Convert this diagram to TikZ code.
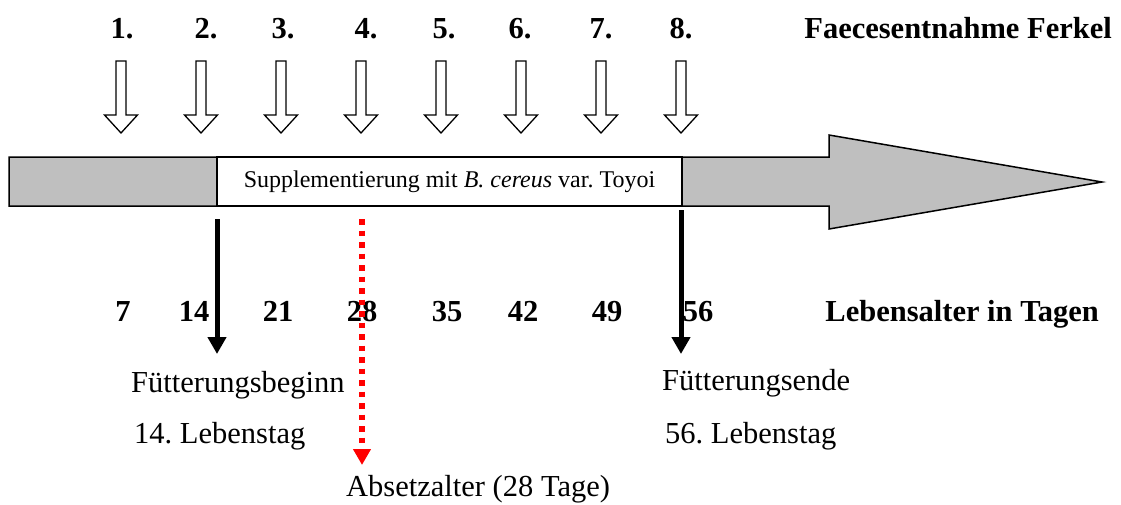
\documentclass[tikz,border=0pt]{standalone}
\usepackage{fontspec}
\setmainfont{Liberation Serif}
\usetikzlibrary{arrows.meta}
\tikzset{
  big/.style={font=\fontsize{30.5}{36}\selectfont, inner sep=0pt},
  bigb/.style={font=\fontsize{30.5}{36}\selectfont\bfseries, inner sep=0pt},
  hollow/.pic={\draw[line width=1.3pt, fill=white] (-5,61)--(5,61)--(5,115)--(16.5,115)--(0,133)--(-16.5,115)--(-5,115)--cycle;},
  blackarrow/.style={line width=5pt, -{Triangle[length=17pt,width=18pt]}},
  redarrow/.style={red, line width=5.5pt, dash pattern=on 5.5pt off 6pt, -{Triangle[length=16pt,width=17pt]}},
}
\begin{document}
\frenchspacing
\begin{tikzpicture}[x=1pt,y=-1pt]
\useasboundingbox (0,0) rectangle (1121,504);
% top labels
\foreach \n/\x in {1/122,2/206,3/283,4/366,5/444,6/520,7/601,8/681}{
  \node[bigb, anchor=base] (l\n) at (\x,38) {\n.};
}
\node[bigb, anchor=base east] (fae) at (1112,38) {Faecesentnahme Ferkel};
% hollow arrows
\foreach \n/\x in {1/121,2/201,3/281,4/361,5/441,6/521,7/601,8/681}{
  \pic (h\n) at (\x,0) {hollow};
}
% big arrow
\draw[line width=1.5pt, fill=black!25] (9,157)--(829,157)--(829,135)--(1102,182)--(829,229)--(829,206)--(9,206)--cycle;
\node[draw, line width=1.5pt, fill=white, minimum width=465pt, minimum height=49pt, inner sep=0pt,
  font=\fontsize{24}{28}\selectfont] (supp) at (449.5,181.5) {Supplementierung mit \textit{B. cereus} var. Toyoi};
% days
\foreach \n/\x in {7/123,14/194,21/278,28/362,35/447,42/523,49/607,56/698}{
  \node[bigb, anchor=base] (d\n) at (\x,321) {\n};
}
\node[bigb, anchor=base east] (leb) at (1099,321) {Lebensalter in Tagen};
% vertical arrows
\coordinate (bs) at (217,219);
\coordinate (be) at (217,354);
\coordinate (es) at (681,210);
\coordinate (ee) at (681,354);
\coordinate (rs) at (362,219);
\coordinate (re) at (362,465);
\draw[redarrow] (rs) -- (re);
\draw[blackarrow] (bs) -- (be);
\draw[blackarrow] (es) -- (ee);
% bottom texts
\node[big, anchor=base west] (fb) at (131,392) {Fütterungsbeginn};
\node[big, anchor=base west] (fb2) at (134,443) {14. Lebenstag};
\node[big, anchor=base west] (fe) at (662,390) {Fütterungsende};
\node[big, anchor=base west] (fe2) at (665,443) {56. Lebenstag};
\node[big, anchor=base west] (abs) at (346,496) {Absetzalter (28 Tage)};
\end{tikzpicture}
\end{document}
